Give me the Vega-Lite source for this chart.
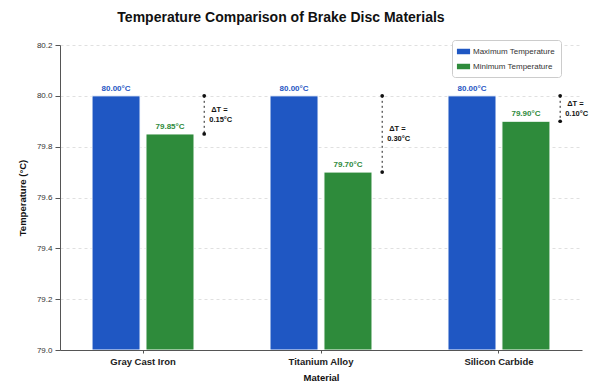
{
  "$schema": "https://vega.github.io/schema/vega-lite/v6.json",
  "width": 522,
  "height": 305,
  "autosize": {"type": "none"},
  "padding": {"left": 60, "top": 45, "right": 9, "bottom": 37},
  "background": "white",
  "title": {
    "text": "Temperature Comparison of Brake Disc Materials",
    "font": "Liberation Sans",
    "fontSize": 14,
    "fontWeight": "bold",
    "color": "#111",
    "anchor": "middle",
    "dx": -40,
    "offset": 15
  },
  "datasets": {
    "bars": [
      {"material": "Gray Cast Iron", "type": "Maximum Temperature", "temp": 80.0},
      {"material": "Gray Cast Iron", "type": "Minimum Temperature", "temp": 79.85},
      {"material": "Titanium Alloy", "type": "Maximum Temperature", "temp": 80.0},
      {"material": "Titanium Alloy", "type": "Minimum Temperature", "temp": 79.7},
      {"material": "Silicon Carbide", "type": "Maximum Temperature", "temp": 80.0},
      {"material": "Silicon Carbide", "type": "Minimum Temperature", "temp": 79.9}
    ],
    "gaps": [
      {"material": "Gray Cast Iron", "high": 80.0, "low": 79.85, "delta": "0.15°C"},
      {"material": "Titanium Alloy", "high": 80.0, "low": 79.7, "delta": "0.30°C"},
      {"material": "Silicon Carbide", "high": 80.0, "low": 79.9, "delta": "0.10°C"}
    ]
  },
  "config": {
    "view": {"stroke": null},
    "font": "Liberation Sans",
    "axis": {
      "domainColor": "#555",
      "tickColor": "#555",
      "labelColor": "#333",
      "titleColor": "#111",
      "titleFontWeight": "bold"
    }
  },
  "encoding": {
    "x": {
      "field": "material",
      "type": "nominal",
      "sort": ["Gray Cast Iron", "Titanium Alloy", "Silicon Carbide"],
      "scale": {"paddingInner": 0.427, "paddingOuter": 0.18},
      "axis": {
        "title": "Material",
        "labelAngle": 0,
        "labelFontWeight": "bold",
        "labelFontSize": 9.5,
        "labelColor": "#222",
        "titleFontSize": 9.5,
        "tickSize": 3,
        "labelPadding": 3,
        "titlePadding": 7,
        "grid": false,
        "zindex": 1
      }
    }
  },
  "layer": [
    {
      "data": {"name": "bars"},
      "mark": {"type": "bar", "stroke": "white", "strokeWidth": 1},
      "encoding": {
        "xOffset": {"field": "type", "type": "nominal", "scale": {"paddingInner": 0.11}},
        "y": {
          "field": "temp",
          "type": "quantitative",
          "scale": {"domain": [79.0, 80.2], "zero": false, "nice": false},
          "axis": {
            "title": "Temperature (°C)",
            "titleFontSize": 9.5,
            "titlePadding": 9,
            "labelFontSize": 8,
            "format": ".1f",
            "values": [79.0, 79.2, 79.4, 79.6, 79.8, 80.0, 80.2],
            "tickSize": 5,
            "labelPadding": 3,
            "grid": true,
            "gridDash": [3, 3],
            "gridColor": "#d8d8d8",
            "gridWidth": 0.8
          }
        },
        "y2": {"datum": 79.0},
        "color": {
          "field": "type",
          "type": "nominal",
          "scale": {"domain": ["Maximum Temperature", "Minimum Temperature"], "range": ["#1f57c3", "#2e8b3b"]},
          "legend": {
            "title": null,
            "orient": "none",
            "legendX": 392,
            "legendY": -5,
            "labelFontSize": 8,
            "labelColor": "#333",
            "symbolType": "M-1.2,-0.5H1.2V0.5H-1.2Z",
            "symbolSize": 120,
            "symbolStrokeWidth": 0,
            "rowPadding": 5,
            "padding": 6,
            "strokeColor": "#ccc",
            "fillColor": "white",
            "cornerRadius": 3
          }
        }
      }
    },
    {
      "data": {"name": "bars"},
      "mark": {
        "type": "text",
        "fontWeight": "bold",
        "fontSize": 8,
        "baseline": "bottom",
        "dy": -3,
        "text": {"expr": "format(datum.temp, '.2f') + '°C'"}
      },
      "encoding": {
        "xOffset": {"field": "type", "type": "nominal"},
        "y": {"field": "temp", "type": "quantitative"},
        "color": {"field": "type", "type": "nominal"}
      }
    },
    {
      "data": {"name": "gaps"},
      "mark": {"type": "rule", "color": "#222", "strokeDash": [2, 3], "strokeWidth": 1},
      "encoding": {
        "x": {"field": "material", "type": "nominal", "bandPosition": 1.1},
        "y": {"field": "high", "type": "quantitative"},
        "y2": {"field": "low"}
      }
    },
    {
      "data": {"name": "gaps"},
      "transform": [{"fold": ["high", "low"], "as": ["end", "value"]}],
      "mark": {"type": "point", "filled": true, "color": "#111", "size": 14, "opacity": 1},
      "encoding": {
        "x": {"field": "material", "type": "nominal", "bandPosition": 1.1},
        "y": {"field": "value", "type": "quantitative"}
      }
    },
    {
      "data": {"name": "gaps"},
      "transform": [
        {"fold": ["high", "low"], "as": ["end", "value"]},
        {"aggregate": [{"op": "mean", "field": "value", "as": "mid"}], "groupby": ["material", "delta"]}
      ],
      "mark": {"type": "text", "align": "left", "baseline": "middle", "dx": 7, "dy": -5, "fontSize": 7.5, "fontWeight": "bold", "color": "#111", "text": "ΔT ="},
      "encoding": {
        "x": {"field": "material", "type": "nominal", "bandPosition": 1.1},
        "y": {"field": "mid", "type": "quantitative"}
      }
    },
    {
      "data": {"name": "gaps"},
      "transform": [
        {"fold": ["high", "low"], "as": ["end", "value"]},
        {"aggregate": [{"op": "mean", "field": "value", "as": "mid"}], "groupby": ["material", "delta"]}
      ],
      "mark": {"type": "text", "align": "left", "baseline": "middle", "dx": 5, "dy": 5, "fontSize": 7.5, "fontWeight": "bold", "color": "#111"},
      "encoding": {
        "x": {"field": "material", "type": "nominal", "bandPosition": 1.1},
        "y": {"field": "mid", "type": "quantitative"},
        "text": {"field": "delta"}
      }
    }
  ]
}
